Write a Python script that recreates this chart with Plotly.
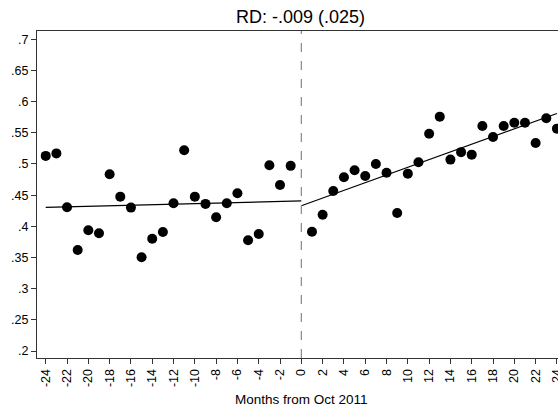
import plotly.graph_objects as go

# Data
months_pre = list(range(-24, 0))
share_pre = [0.513, 0.517, 0.4305, 0.362, 0.3936, 0.389, 0.4835, 0.4476, 0.430, 0.3503,
             0.380, 0.391, 0.437, 0.522, 0.4476, 0.436, 0.4145, 0.437, 0.453, 0.3776,
             0.3877, 0.498, 0.4663, 0.497]
months_post = list(range(1, 25))
share_post = [0.3914, 0.4187, 0.4567, 0.4786, 0.490, 0.4808, 0.500, 0.486, 0.4214, 0.4845,
              0.5027, 0.5486, 0.5759, 0.507, 0.519, 0.515, 0.561, 0.5433, 0.561, 0.566,
              0.566, 0.5337, 0.5733, 0.5567]
fit_pre_x = [-24, 0]
fit_pre_y = [0.4305, 0.4407]
fit_post_x = [0, 24]
fit_post_y = [0.433, 0.581]

y_ticks = [0.2, 0.25, 0.3, 0.35, 0.4, 0.45, 0.5, 0.55, 0.6, 0.65, 0.7]
y_ticktext = [".2", ".25", ".3", ".35", ".4", ".45", ".5", ".55", ".6", ".65", ".7"]
x_ticks = list(range(-24, 25, 2))
x_ticktext = [str(v) for v in x_ticks]

title_text = "RD: -.009 (.025)"
x_title = "Months from Oct 2011"

FONT = "Liberation Sans, Arial, sans-serif"

fig = go.Figure()
fig.add_trace(go.Scatter(x=months_pre + months_post, y=share_pre + share_post, mode="markers",
                         marker=dict(color="black", size=10), showlegend=False,
                         cliponaxis=False))
fig.add_trace(go.Scatter(x=fit_pre_x, y=fit_pre_y, mode="lines",
                         line=dict(color="black", width=1.2), showlegend=False))
fig.add_trace(go.Scatter(x=fit_post_x, y=fit_post_y, mode="lines",
                         line=dict(color="black", width=1.2), showlegend=False))

fig.add_shape(type="line", x0=0, x1=0, y0=0, y1=1, xref="x", yref="paper",
              line=dict(color="#888888", width=1.2, dash="dash"))

fig.add_annotation(text=title_text, x=(300 - 37) / 521, y=1 + 14 / 327,
                   xref="paper", yref="paper", xanchor="center", yanchor="middle",
                   showarrow=False, font=dict(family=FONT, size=18, color="black"))
fig.add_annotation(text=x_title, x=(301 - 37) / 521, y=-(399 - 358) / 327,
                   xref="paper", yref="paper", xanchor="center", yanchor="middle",
                   showarrow=False, font=dict(family=FONT, size=13.5, color="black"))

fig.update_layout(
    width=558, height=408,
    margin=dict(l=37, r=0, t=31, b=50),
    plot_bgcolor="white", paper_bgcolor="white",
    font=dict(family=FONT, size=12, color="black"),
    xaxis=dict(range=[-24.82, 24.1], tickvals=x_ticks, ticktext=x_ticktext,
               tickangle=-90, ticks="outside", ticklen=5, tickcolor="#333333",
               showline=True, linecolor="#333333", linewidth=1, mirror=True,
               showgrid=False, zeroline=False, tickfont=dict(size=12.5),
               ticklabeloverflow="allow", automargin=False),
    yaxis=dict(range=[0.1888, 0.7133], tickvals=y_ticks, ticktext=y_ticktext,
               ticks="outside", ticklen=5, tickcolor="#333333",
               showline=True, linecolor="#333333", linewidth=1,
               showgrid=False, zeroline=False, tickfont=dict(size=12.5),
               automargin=False),
)

fig.write_html("out.html")
